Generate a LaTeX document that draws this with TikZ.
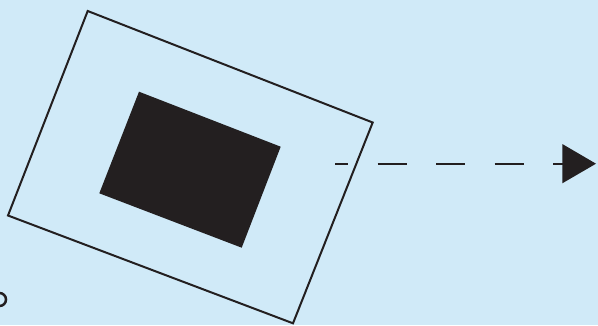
\documentclass[tikz,border=0pt]{standalone}
\usetikzlibrary{arrows.meta}
\definecolor{bgblue}{HTML}{D0EAF8}
\definecolor{ink}{HTML}{231F20}
\tikzset{
  frame/.style={draw=ink, line width=2pt, line join=miter},
  core/.style={fill=ink, draw=none},
  dashline/.style={draw=ink, line width=2pt, dash pattern=on 29pt off 29.5pt, dash phase=16pt},
  tip/.style={fill=ink, draw=none}
}
\begin{document}
\begin{tikzpicture}[x=1pt,y=-1pt]
  \path[fill=bgblue] (0,0) rectangle (598,325);
  \useasboundingbox (0,0) rectangle (598,325);
  \begin{scope}
    \clip (0,0) rectangle (598,325);
    % outer rotated frame
    \coordinate (o1) at (87.7,11);
    \coordinate (o2) at (372.7,122.5);
    \coordinate (o3) at (293,323.3);
    \coordinate (o4) at (8,215.5);
    \draw[frame] (o1) -- (o2) -- (o3) -- (o4) -- cycle;
    % inner black block
    \coordinate (i1) at (139,91.7);
    \coordinate (i2) at (280.7,146.7);
    \coordinate (i3) at (241.7,247.7);
    \coordinate (i4) at (99.3,193.3);
    \fill[core] (i1) -- (i2) -- (i3) -- (i4) -- cycle;
    % dashed arrow
    \coordinate (a0) at (335,163.7);
    \coordinate (a1) at (563,163.7);
    \coordinate (at) at (596,163.7);
    \coordinate (au) at (562.3,144);
    \coordinate (ad) at (562.3,183.3);
    \draw[dashline] (a0) -- (a1);
    \fill[tip] (au) -- (at) -- (ad) -- cycle;
    % partial glyph at bottom-left edge
    \coordinate (gc) at (-0.5,299.5);
    \draw[draw=ink, line width=2.5pt] ([shift={(-90:6.5)}]gc) arc[start angle=-90, end angle=90, radius=6.5];
  \end{scope}
\end{tikzpicture}
\end{document}
